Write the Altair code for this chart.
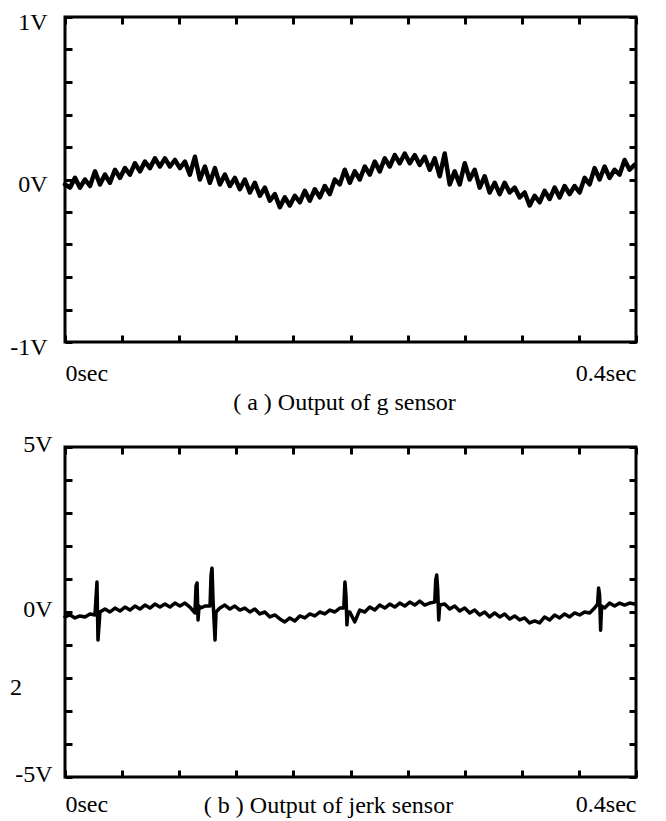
import altair as alt
import pandas as pd

FONT = "Liberation Serif"
FS = 24

# ---------------- data ----------------
# (a) g sensor: volts sampled every 3.5 ms from 0 to 0.4 s
g_step_ms = 3.5
g_volts = [
    -0.03, -0.05, 0.01, -0.05, 0.00, -0.04, 0.05, -0.03, 0.03, -0.02,
    0.06, 0.01, 0.07, 0.03, 0.10, 0.05, 0.11, 0.07, 0.13, 0.08,
    0.13, 0.08, 0.12, 0.07, 0.11, 0.03, 0.14, 0.00, 0.08, -0.02,
    0.07, -0.03, 0.03, -0.04, 0.01, -0.06, 0.00, -0.08, -0.02, -0.10,
    -0.05, -0.13, -0.09, -0.17, -0.11, -0.16, -0.10, -0.14, -0.07, -0.13,
    -0.06, -0.11, -0.04, -0.09, 0.00, -0.03, 0.06, -0.02, 0.05, 0.00,
    0.08, 0.03, 0.11, 0.05, 0.13, 0.08, 0.15, 0.10, 0.16, 0.10,
    0.15, 0.09, 0.14, 0.06, 0.13, 0.02, 0.16, -0.03, 0.05, -0.03,
    0.10, 0.00, 0.06, -0.05, 0.02, -0.08, -0.02, -0.09, -0.02, -0.08,
    -0.05, -0.11, -0.08, -0.16, -0.10, -0.14, -0.07, -0.12, -0.05, -0.11,
    -0.04, -0.09, -0.04, -0.08, 0.01, -0.03, 0.07, 0.00, 0.08, 0.01,
    0.06, 0.03, 0.12, 0.06, 0.09,
]
g_time_ms = [round(i * g_step_ms, 1) for i in range(len(g_volts))]

# (b) jerk sensor
jerk_time_ms = [
    0, 3.5, 7, 10.5, 14, 17.5, 21, 22.4, 23.1, 24.5,
    28, 31.5, 35, 38.5, 42, 45.5, 49, 52.5, 56, 59.5,
    63, 66.5, 70, 73.5, 77, 80.5, 84, 87.5, 91, 91.8,
    92.5, 93.2, 93.9, 94.6, 98, 101.6, 102.3, 103, 103.7, 105.1,
    105.8, 108.5, 112, 115.5, 119, 122.5, 126, 129.5, 133, 136.5,
    140, 143.5, 147, 150.5, 154, 157.5, 161, 164.5, 168, 171.5,
    175, 178.5, 182, 185.5, 189, 192.5, 195.3, 196.1, 196.8, 197.5,
    198.2, 199.5, 203, 206.5, 210, 213.5, 217, 220.5, 224, 227.5,
    231, 234.5, 238, 241.5, 245, 248.5, 252, 255.5, 259, 259.7,
    260.4, 261.1, 261.8, 262.5, 266, 269.5, 273, 276.5, 280, 283.5,
    287, 290.5, 294, 297.5, 301, 304.5, 308, 311.5, 315, 318.5,
    322, 325.5, 329, 332.5, 336, 339.5, 343, 346.5, 350, 353.5,
    357, 360.5, 364, 367.5, 371, 373.1, 373.8, 374.5, 375.2, 375.9,
    378, 381.5, 385, 388.5, 392, 395.5, 399,
]
jerk_volts = [
    -0.15, -0.09, -0.18, -0.12, -0.15, -0.06, -0.09, 0.91, -0.85, 0.00,
    0.09, 0.00, 0.12, 0.03, 0.15, 0.06, 0.18, 0.09, 0.21, 0.12,
    0.24, 0.15, 0.24, 0.15, 0.27, 0.18, 0.27, 0.15, -0.03, 0.79,
    0.88, -0.24, 0.18, 0.12, 0.18, 0.18, 1.12, 1.33, 0.36, -0.85,
    0.00, 0.12, 0.21, 0.09, 0.18, 0.06, 0.12, 0.00, 0.09, -0.06,
    0.00, -0.15, -0.09, -0.21, -0.30, -0.18, -0.27, -0.12, -0.18, -0.06,
    -0.12, 0.00, -0.06, 0.06, 0.00, 0.12, 0.12, 0.91, 0.52, -0.39,
    0.00, 0.00, -0.30, 0.06, 0.00, 0.15, 0.06, 0.21, 0.12, 0.24,
    0.15, 0.27, 0.18, 0.30, 0.21, 0.33, 0.21, 0.27, 0.30, 0.97,
    1.12, 0.67, -0.24, 0.21, 0.24, 0.09, 0.18, 0.03, 0.12, -0.03,
    0.06, -0.09, 0.00, -0.15, -0.03, -0.15, -0.06, -0.21, -0.12, -0.24,
    -0.18, -0.33, -0.27, -0.33, -0.15, -0.24, -0.09, -0.18, -0.06, -0.15,
    -0.03, -0.09, 0.00, -0.03, 0.12, 0.24, 0.73, 0.52, -0.55, 0.18,
    0.12, 0.27, 0.18, 0.27, 0.21, 0.27, 0.24,
]

x_ticks_ms = [0, 40, 80, 120, 160, 200, 240, 280, 320, 360, 400]
g_ticks = [-1, -0.8, -0.6, -0.4, -0.2, 0, 0.2, 0.4, 0.6, 0.8, 1]
jerk_ticks = [-5, -4, -3, -2, -1, 0, 1, 2, 3, 4, 5]

caption_a = "( a ) Output of g sensor"
caption_b = "( b ) Output of jerk sensor"
stray_label = "2"
stray_label_v = -2.3

X_LABELS = "datum.value === 0 ? '0sec' : datum.value === 400 ? '0.4sec' : ''"
G_LABELS = "datum.value === 1 ? '1V' : datum.value === 0 ? '0V' : datum.value === -1 ? '-1V' : ''"
J_LABELS = "datum.value === 5 ? '5V' : datum.value === 0 ? '0V' : datum.value === -5 ? '-5V' : ''"

TICK = alt.ExprRef(expr="-7")
W = 571


def panel(times, volts, ydom, yticks, ylabels, caption, stroke, h,
          ypad, yoff, xpad, title_y, title_x, extra=None):
    df = pd.DataFrame({"t": times, "v": volts})
    base = alt.Chart(df)
    xs = alt.Scale(domain=[0, 400], nice=False, zero=False)
    ys = alt.Scale(domain=ydom, nice=False, zero=False)
    line = base.mark_line(color="black", strokeWidth=stroke,
                          strokeJoin="round", strokeCap="round").encode(
        x=alt.X("t:Q", scale=xs, axis=alt.Axis(
            orient="bottom", values=x_ticks_ms, labelExpr=X_LABELS,
            labelFlush=True, labelOverlap=False, labelPadding=xpad,
            labelBaseline="top", tickSize=TICK,
            title=caption, titleY=title_y, titleX=title_x,
            titleBaseline="top", titleAlign="center")),
        y=alt.Y("v:Q", scale=ys, axis=alt.Axis(
            orient="left", values=yticks, labelExpr=ylabels,
            labelOverlap=False, labelPadding=ypad, labelOffset=yoff,
            labelBaseline="middle", tickSize=TICK, title=None)),
    )
    frame = base.mark_line(opacity=0).encode(
        x=alt.X("t:Q", scale=xs, axis=alt.Axis(
            orient="top", values=x_ticks_ms, labels=False, tickSize=TICK,
            title=None)),
        y=alt.Y("v:Q", scale=ys, axis=alt.Axis(
            orient="right", values=yticks, labels=False, tickSize=TICK,
            title=None, minExtent=0)),
    )
    layers = [line, frame]
    if extra is not None:
        layers.append(extra)
    return alt.layer(*layers).resolve_axis(
        x="independent", y="independent").properties(width=W, height=h)


top = panel(g_time_ms, g_volts, [-1, 1], g_ticks, G_LABELS, caption_a,
            4.5, 325, 25, 5, 26, 48, 279)

stray = alt.Chart(pd.DataFrame({"v": [stray_label_v], "txt": [stray_label]})).mark_text(
    align="left", baseline="middle", font=FONT, fontSize=FS, color="black"
).encode(x=alt.value(-55), y=alt.Y("v:Q", axis=None), text="txt:N")

bottom = panel(jerk_time_ms, jerk_volts, [-5, 5], jerk_ticks, J_LABELS, caption_b,
               3.5, 330, 20, -3, 22, 16, 263, extra=stray)

chart = alt.vconcat(top, bottom, spacing=14).properties(
    padding={"left": 0, "top": 0, "right": 0, "bottom": 0}
).configure_view(
    stroke="black", strokeWidth=3
).configure_axis(
    labelFont=FONT, labelFontSize=FS, labelColor="black",
    titleFont=FONT, titleFontSize=FS, titleFontWeight="normal", titleColor="black",
    grid=False, domain=False, tickColor="black", tickWidth=3,
)

chart.save("out.html", embed_options={"renderer": "svg", "actions": False})
